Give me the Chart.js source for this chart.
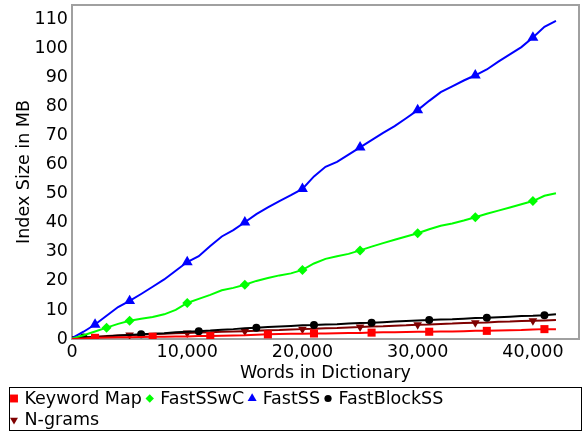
<!DOCTYPE html>
<html>
<head>
<meta charset="utf-8">
<script src="https://cdn.jsdelivr.net/npm/chart.js@4/dist/chart.umd.min.js"></script>
<style>
  html, body { margin: 0; padding: 0; background: #fff; }
  #wrap { width: 584px; height: 433px; }
</style>
</head>
<body>
<div id="wrap"><canvas id="c" width="584" height="433"></canvas></div>
<script>
// Dictionary size in words, sampled every 1,000 words
const words = [0,1000,2000,3000,4000,5000,6000,7000,8000,9000,10000,11000,12000,13000,14000,15000,16000,17000,18000,19000,20000,21000,22000,23000,24000,25000,26000,27000,28000,29000,30000,31000,32000,33000,34000,35000,36000,37000,38000,39000,40000,41000,42000];

// Index size in MB for each method
const keywordMap = [0.0,0.2,0.4,0.5,0.6,0.6,0.7,0.8,0.8,0.9,0.9,1.0,1.0,1.1,1.2,1.3,1.5,1.6,1.7,1.8,1.8,1.9,1.9,2.0,2.1,2.1,2.2,2.3,2.3,2.4,2.5,2.5,2.6,2.6,2.7,2.8,2.8,2.9,3.0,3.1,3.3,3.4,3.4];
const fastSSwC = [0.2,1.3,2.6,3.9,5.2,6.3,7.0,7.6,8.5,10.0,12.4,13.8,15.2,16.8,17.6,18.7,20.0,21.0,21.9,22.6,23.8,26.0,27.6,28.5,29.3,30.5,31.8,33.0,34.2,35.3,36.4,37.8,39.0,39.8,40.8,41.9,43.1,44.2,45.3,46.4,47.5,49.3,50.2];
const fastSS = [0.3,2.5,5.0,8.0,11.0,13.1,15.5,18.0,20.5,23.5,26.5,28.5,32.0,35.3,37.5,40.2,43.0,45.3,47.5,49.5,51.7,56.0,59.3,61.0,63.5,66.0,68.5,71.0,73.3,76.0,78.8,82.0,85.0,87.0,89.0,90.8,92.8,95.5,98.0,100.5,103.8,107.5,109.5];
const fastBlockSS = [0.1,0.5,0.7,0.9,1.2,1.4,1.6,1.8,2.0,2.3,2.5,2.7,2.9,3.2,3.4,3.7,3.9,4.1,4.3,4.5,4.7,4.8,5.0,5.1,5.3,5.5,5.6,5.8,6.0,6.2,6.4,6.5,6.7,6.8,7.0,7.2,7.3,7.5,7.7,7.9,8.0,8.2,8.5];
const nGrams = [0.2,0.5,0.7,1.0,1.2,1.4,1.5,1.7,1.8,2.0,2.1,2.2,2.3,2.5,2.6,2.7,2.8,3.0,3.1,3.3,3.4,3.5,3.7,3.8,4.0,4.1,4.3,4.4,4.6,4.7,4.9,5.0,5.2,5.3,5.5,5.6,5.7,5.9,6.0,6.2,6.3,6.4,6.5];

// Sample indices that carry a marker symbol
const keywordMapMarks = [2,7,12,17,21,26,31,36,41];
const fastSSwCMarks = [3,5,10,15,20,25,30,35,40];
const fastSSMarks = [2,5,10,15,20,25,30,35,40];
const fastBlockSSMarks = [1,6,11,16,21,26,31,36,41];
const nGramsMarks = [0,5,10,15,20,25,30,35,40];

// Axis ticks
const xTickValues = [0,10000,20000,30000,40000];
const xTickLabels = ['0','10,000','20,000','30,000','40,000'];
const yTickValues = [0,10,20,30,40,50,60,70,80,90,100,110];

const FONT = 'DejaVu Sans';
const FONT_SIZE = 17.5;

function series(label, values, marks, color, style, radius, legendRadius, rotation) {
  return {
    label: label,
    data: words.map((w, i) => ({ x: w, y: values[i] })),
    borderColor: color,
    backgroundColor: color,
    borderWidth: 2,
    pointStyle: style,
    rotation: rotation || 0,
    pointBorderWidth: 0,
    pointRadius: ctx => marks.includes(ctx.dataIndex) ? radius : 0,
    pointHoverRadius: 0,
    legendRadius: legendRadius,
    tension: 0,
    fill: false
  };
}

// Grey frame on the top/right of the plot and a boxed two-row legend below the axis
const frameAndLegend = {
  id: 'frameAndLegend',
  afterDraw(chart) {
    const ctx = chart.ctx;
    const a = chart.chartArea;
    ctx.save();
    ctx.strokeStyle = '#a0a0a0';
    ctx.lineWidth = 2;
    ctx.beginPath();
    ctx.moveTo(a.left, a.top);
    ctx.lineTo(a.right, a.top);
    ctx.lineTo(a.right, a.bottom);
    ctx.stroke();

    const boxTop = 387.5;
    ctx.strokeStyle = '#000';
    ctx.lineWidth = 1;
    ctx.strokeRect(9.5, boxTop, 572, 43);

    ctx.font = FONT_SIZE + 'px "' + FONT + '"';
    ctx.textBaseline = 'middle';
    ctx.textAlign = 'left';
    const rowY = [boxTop + 11, boxTop + 32.5];
    const maxRight = 500;
    let x = 10, row = 0;
    chart.data.datasets.forEach(ds => {
      const tw = ctx.measureText(ds.label).width;
      if (x + 15 + tw > maxRight && x > 10) { row++; x = 10; }
      const y = rowY[row];
      ctx.fillStyle = ds.borderColor;
      Chart.helpers.drawPoint(ctx, {
        pointStyle: ds.pointStyle,
        rotation: ds.rotation,
        radius: ds.legendRadius,
        borderWidth: 0
      }, x + 4, y);
      ctx.fillStyle = '#000';
      ctx.fillText(ds.label, x + 14.5, y + 0.5);
      x += 14.5 + tw + 4;
    });
    ctx.restore();
  }
};

new Chart(document.getElementById('c'), {
  type: 'line',
  data: {
    datasets: [
      series('Keyword Map', keywordMap, keywordMapMarks, '#ff0000', 'rect', 5.7, 5.6),
      series('FastSSwC', fastSSwC, fastSSwCMarks, '#00ff00', 'rectRot', 5, 4.2),
      series('FastSS', fastSS, fastSSMarks, '#0000ff', 'triangle', 6.3, 5.2),
      series('FastBlockSS', fastBlockSS, fastBlockSSMarks, '#000000', 'circle', 4, 3.6),
      series('N-grams', nGrams, nGramsMarks, '#7f0000', 'triangle', 5, 4.6, 180)
    ]
  },
  options: {
    responsive: false,
    animation: false,
    layout: { padding: { left: 8, right: 4, top: 4, bottom: 47 } },
    plugins: {
      tooltip: { enabled: false },
      legend: { display: false }
    },
    scales: {
      x: {
        type: 'linear',
        min: 0,
        max: 44000,
        afterFit: s => { s.height = 47; s.paddingLeft = 0; s.paddingRight = 0; },
        afterBuildTicks: s => { s.ticks = xTickValues.map(v => ({ value: v })); },
        grid: { display: false, drawTicks: false },
        border: { display: true, color: '#a0a0a0', width: 2 },
        ticks: {
          padding: 3,
          color: '#000',
          font: { family: FONT, size: FONT_SIZE },
          maxRotation: 0,
          callback: (v) => xTickLabels[xTickValues.indexOf(v)]
        },
        title: {
          display: true,
          text: 'Words in Dictionary',
          color: '#000',
          font: { family: FONT, size: FONT_SIZE },
          padding: { top: 0, bottom: 2 }
        }
      },
      y: {
        type: 'linear',
        min: 0,
        max: 115,
        afterFit: s => { s.width = 64; s.paddingTop = 0; s.paddingBottom = 0; },
        afterBuildTicks: s => { s.ticks = yTickValues.map(v => ({ value: v })); },
        grid: { display: false, drawTicks: false },
        border: { display: true, color: '#a0a0a0', width: 2 },
        ticks: {
          padding: 4,
          color: '#000',
          font: { family: FONT, size: FONT_SIZE }
        },
        title: {
          display: true,
          text: 'Index Size in MB',
          color: '#000',
          font: { family: FONT, size: FONT_SIZE },
          padding: { top: 6, bottom: 0 }
        }
      }
    }
  },
  plugins: [frameAndLegend]
});
</script>
</body>
</html>
